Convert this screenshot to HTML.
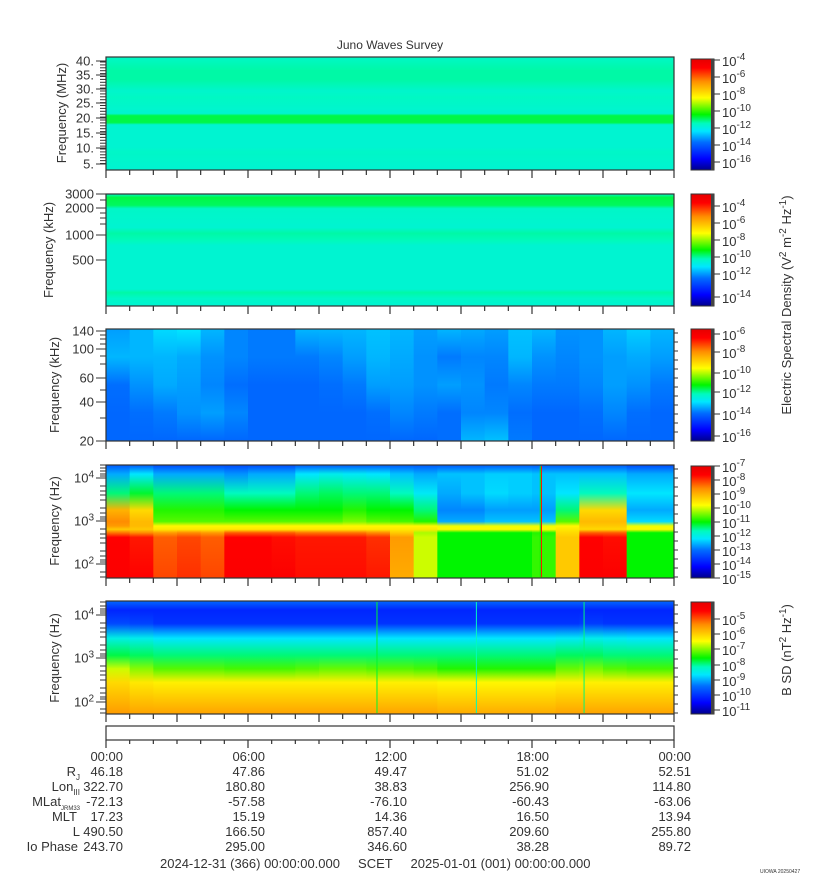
<!DOCTYPE html>
<html><head><meta charset="utf-8"><style>
body{margin:0;background:#fff;}
svg{display:block;font-family:"Liberation Sans","DejaVu Sans",sans-serif;}
text{fill:#333;}
</style></head><body>
<svg id="chart" width="815" height="880" viewBox="0 0 815 880" xmlns="http://www.w3.org/2000/svg">
<defs id="defs"></defs>
<text x="390" y="49" font-size="12" text-anchor="middle">Juno Waves Survey</text>
<g id="panels"></g>
<g id="texts"></g>
</svg>
<script>
// ===== data =====
const hours = [0,1,2,3,4,5,6,7,8,9,10,11,12,13,14,15,16,17,18,19,20,21,22,23];
// panel 1 (MHz) frequency profile: fraction from top, colour level
const p1Rows = [0,0.12,0.2,0.3,0.36,0.5,0.52,0.58,0.6,0.8,0.84,1];
const p1Level = [0.41,0.43,0.43,0.405,0.415,0.40,0.47,0.47,0.40,0.40,0.41,0.40];
// panel 2 (kHz)
const p2Rows = [0,0.03,0.1,0.13,0.3,0.35,0.42,0.46,0.85,0.88,0.93,1];
const p2Level = [0.40,0.47,0.46,0.41,0.40,0.43,0.42,0.40,0.40,0.43,0.41,0.40];
// panel 3 (20-140 kHz) hourly columns
const p3Rows = [0,0.25,0.5,0.75,1];
const p3Level = [
[0.29,0.31,0.25,0.24,0.24],[0.31,0.31,0.28,0.25,0.24],[0.34,0.31,0.3,0.26,0.24],[0.35,0.3,0.29,0.28,0.24],
[0.31,0.28,0.27,0.29,0.24],[0.27,0.27,0.25,0.27,0.24],[0.26,0.26,0.24,0.24,0.24],[0.26,0.26,0.24,0.24,0.24],
[0.31,0.26,0.24,0.24,0.24],[0.31,0.27,0.25,0.24,0.24],[0.31,0.29,0.26,0.24,0.24],[0.32,0.31,0.29,0.25,0.24],
[0.31,0.3,0.29,0.27,0.24],[0.29,0.28,0.28,0.26,0.24],[0.31,0.26,0.29,0.25,0.25],[0.3,0.27,0.28,0.27,0.31],
[0.29,0.27,0.26,0.27,0.32],[0.32,0.31,0.27,0.25,0.26],[0.31,0.28,0.26,0.24,0.24],[0.28,0.27,0.26,0.24,0.24],
[0.28,0.28,0.27,0.25,0.24],[0.31,0.29,0.29,0.27,0.24],[0.33,0.3,0.28,0.25,0.24],[0.31,0.29,0.26,0.24,0.24]];
// panel 4 (Hz, E field)
const p4Rows = [0,0.08,0.25,0.4,0.5,0.54,0.57,0.6,0.64,1];
const p4Level = [
[0.22,0.3,0.45,0.75,0.8,0.78,0.72,0.82,0.92,0.93],[0.22,0.35,0.48,0.7,0.74,0.74,0.72,0.8,0.9,0.92],
[0.2,0.3,0.45,0.52,0.55,0.66,0.68,0.78,0.84,0.86],[0.2,0.3,0.45,0.52,0.55,0.66,0.68,0.8,0.86,0.88],[0.2,0.3,0.45,0.52,0.55,0.66,0.68,0.78,0.84,0.86],
[0.2,0.28,0.42,0.5,0.55,0.66,0.68,0.84,0.92,0.93],[0.2,0.3,0.42,0.5,0.55,0.66,0.68,0.84,0.92,0.93],[0.2,0.3,0.42,0.5,0.55,0.66,0.68,0.84,0.91,0.93],
[0.22,0.35,0.45,0.5,0.55,0.66,0.68,0.82,0.9,0.91],[0.22,0.37,0.46,0.5,0.55,0.66,0.68,0.82,0.9,0.91],[0.22,0.36,0.45,0.52,0.57,0.66,0.68,0.82,0.9,0.91],[0.22,0.35,0.45,0.5,0.55,0.66,0.68,0.8,0.88,0.9],
[0.22,0.32,0.42,0.5,0.54,0.66,0.68,0.72,0.78,0.76],[0.22,0.3,0.36,0.45,0.52,0.66,0.68,0.6,0.62,0.62],
[0.22,0.32,0.3,0.27,0.3,0.64,0.66,0.5,0.5,0.5],[0.22,0.32,0.32,0.27,0.3,0.64,0.66,0.5,0.5,0.5],[0.22,0.33,0.34,0.29,0.32,0.64,0.66,0.5,0.5,0.5],
[0.22,0.33,0.33,0.29,0.32,0.64,0.66,0.5,0.5,0.5],[0.22,0.32,0.32,0.29,0.32,0.64,0.66,0.52,0.53,0.53],
[0.22,0.32,0.35,0.45,0.55,0.66,0.68,0.7,0.72,0.72],[0.22,0.32,0.42,0.7,0.74,0.72,0.7,0.84,0.92,0.93],[0.22,0.32,0.42,0.7,0.74,0.72,0.7,0.84,0.91,0.93],
[0.2,0.3,0.35,0.3,0.34,0.64,0.66,0.5,0.5,0.5],[0.2,0.3,0.35,0.3,0.34,0.64,0.66,0.5,0.5,0.5]];
// panel 5 (Hz, B field)
const p5Rows = [0,0.08,0.2,0.33,0.48,0.6,0.72,1];
const p5Level = [
[0.24,0.15,0.2,0.38,0.47,0.62,0.7,0.78],[0.24,0.15,0.19,0.37,0.46,0.58,0.68,0.77],[0.24,0.15,0.17,0.35,0.45,0.55,0.67,0.77],
[0.24,0.15,0.17,0.35,0.45,0.55,0.67,0.77],[0.24,0.15,0.17,0.35,0.45,0.55,0.67,0.77],[0.24,0.15,0.17,0.35,0.45,0.54,0.67,0.77],
[0.24,0.15,0.17,0.35,0.45,0.54,0.67,0.77],[0.24,0.15,0.17,0.35,0.45,0.54,0.67,0.77],[0.24,0.15,0.17,0.35,0.45,0.55,0.67,0.77],
[0.24,0.15,0.17,0.35,0.45,0.56,0.67,0.77],[0.24,0.15,0.17,0.35,0.45,0.56,0.67,0.77],[0.24,0.15,0.17,0.35,0.45,0.55,0.67,0.77],
[0.24,0.15,0.17,0.35,0.45,0.55,0.67,0.77],[0.24,0.15,0.17,0.35,0.45,0.54,0.67,0.77],[0.24,0.15,0.17,0.35,0.45,0.52,0.66,0.76],
[0.24,0.15,0.17,0.35,0.45,0.52,0.66,0.76],[0.24,0.15,0.17,0.35,0.45,0.52,0.66,0.76],[0.24,0.15,0.17,0.35,0.45,0.52,0.66,0.76],
[0.24,0.15,0.17,0.35,0.45,0.52,0.66,0.76],[0.24,0.15,0.17,0.36,0.46,0.56,0.67,0.77],[0.24,0.15,0.18,0.37,0.46,0.57,0.67,0.77],
[0.24,0.15,0.17,0.36,0.45,0.55,0.67,0.77],[0.24,0.15,0.17,0.35,0.45,0.54,0.67,0.77],[0.24,0.15,0.17,0.35,0.45,0.54,0.67,0.77]];
const p4Spikes = [18.35, 18.4];
const p4SpikeLevel = [0.5, 0.9];
const p5Spikes = [11.45, 15.65, 20.2];
const p5SpikeLevel = [0.48, 0.42, 0.45];
const tickLabels = ["00:00","06:00","12:00","18:00","00:00"];
const rowNames = ["","R_J","Lon_III","MLat_JRM33","MLT","L","Io Phase"];
const ephem = [
["46.18","47.86","49.47","51.02","52.51"],
["322.70","180.80","38.83","256.90","114.80"],
["-72.13","-57.58","-76.10","-60.43","-63.06"],
["17.23","15.19","14.36","16.50","13.94"],
["490.50","166.50","857.40","209.60","255.80"],
["243.70","295.00","346.60","38.28","89.72"]];

// ===== helpers =====
const NS="http://www.w3.org/2000/svg";
const X0=106, X1=674, HOURS=24;
const xScale = h => X0 + (X1-X0)*h/HOURS;
const stops=[[0,[0,0,140]],[0.1,[0,0,255]],[0.25,[0,110,255]],[0.35,[0,230,255]],[0.42,[0,250,190]],[0.5,[0,245,0]],[0.65,[255,255,0]],[0.8,[255,140,0]],[0.92,[255,0,0]],[1,[230,0,0]]];
function cmap(t){t=Math.max(0,Math.min(1,t));for(let i=1;i<stops.length;i++){if(t<=stops[i][0]){const a=stops[i-1],b=stops[i],f=(t-a[0])/(b[0]-a[0]);return 'rgb('+a[1].map((v,k)=>Math.round(v+(b[1][k]-v)*f)).join(',')+')';}}return 'rgb(230,0,0)';}
function mk(tag,attrs,parent){const e=document.createElementNS(NS,tag);for(const k in attrs)e.setAttribute(k,attrs[k]);if(parent)parent.appendChild(e);return e;}
const defs=document.getElementById('defs'), G=document.getElementById('panels'), T=document.getElementById('texts');
let gid=0;
function grad(rows,levels){const id='g'+(gid++);const lg=mk('linearGradient',{id:id,x1:0,y1:0,x2:0,y2:1},defs);rows.forEach((r,i)=>mk('stop',{offset:r,'stop-color':cmap(levels[i])},lg));return id;}
const panels=[[57,170],[194,306],[329,441],[465,578],[601,714]];

function panelFrame(pi,name){
  const [y0,y1]=panels[pi];
  const f=mk('rect',{x:X0,y:y0,width:X1-X0,height:y1-y0,fill:'none',stroke:'#333','stroke-width':1.2},G);
  
  for(let h=0;h<=HOURS;h++){const x=xScale(h);const l=mk('line',{x1:x,x2:x,y1:y1,y2:y1+(h%3==0?8:5),stroke:'#333','stroke-width':1.2},G);
    }
}
function constPanel(pi,rows,levels,name){
  const [y0,y1]=panels[pi];const id=grad(rows,levels);
  const r=mk('rect',{x:X0,y:y0,width:X1-X0,height:y1-y0,fill:'url(#'+id+')'},G);
  
  panelFrame(pi,name);
}
function colPanel(pi,rows,matrix,name){
  const [y0,y1]=panels[pi];
  const g=mk('g',{},G);
  hours.forEach((h,i)=>{const id=grad(rows,matrix[i]);const x=xScale(h);
    const r=mk('rect',{x:x,y:y0,width:xScale(h+1)-x+0.5,height:y1-y0,fill:'url(#'+id+')'},g);
    });
  panelFrame(pi,name);
}
function spikes(pi,times,levels){const [y0,y1]=panels[pi];times.forEach((t,i)=>{const x=xScale(t);
  const l=mk('line',{x1:x,x2:x,y1:y0+1,y2:y1-1,stroke:cmap(levels[i]),'stroke-width':1},G);
  });}

constPanel(0,p1Rows,p1Level,'spectrogram-mhz');
constPanel(1,p2Rows,p2Level,'spectrogram-khz-high');
colPanel(2,p3Rows,p3Level,'spectrogram-khz-low');
colPanel(3,p4Rows,p4Level,'spectrogram-hz-e');
spikes(3,p4Spikes,p4SpikeLevel);
colPanel(4,p5Rows,p5Level,'spectrogram-hz-b');
spikes(4,p5Spikes,p5SpikeLevel);

// y-axis labels & ticks
function ytick(y,label,major){const l=mk('line',{x1:major?96:100,x2:X0,y1:y,y2:y,stroke:'#333','stroke-width':1},G);
  
  if(label!==null){const t=mk('text',{x:94,y:y+4.5,'font-size':13,'text-anchor':'end'},T);
    
    if(typeof label==='object'){t.textContent=label[0];const s=mk('tspan',{dy:-5,'font-size':10},t);s.textContent=label[1];}else t.textContent=label;}}
[["40.",61],["35.",75],["30.",89],["25.",103],["20.",118],["15.",133],["10.",148],["5.",164]].forEach(a=>ytick(a[1],a[0],true));
for(let y=62;y<166;y+=2.9)ytick(y,null,false);
[["3000",194],["2000",208],["1000",235],["500",260]].forEach(a=>ytick(a[1],a[0],true));
[200,213,218,224].forEach(y=>ytick(y,null,false));
[["140",331],["100",349],["60",378],["40",402],["20",441]].forEach(a=>ytick(a[1],a[0],true));
[335,339,344,356,364,390,418].forEach(y=>ytick(y,null,false));
[[["10","4"],478],[["10","3"],521],[["10","2"],564]].forEach(a=>ytick(a[1],a[0],true));
[[["10","4"],615],[["10","3"],658],[["10","2"],702]].forEach(a=>ytick(a[1],a[0],true));
[465,468,471,474,476,486,491,495,500,508,513,517,519,529,534,538,543,551,556,560,562,572,577].forEach(y=>ytick(y,null,false));
[602,606,609,611,613,623,628,632,637,645,650,654,656,666,671,675,680,688,693,697,699,709,713].forEach(y=>ytick(y,null,false));
[[465,578],[601,714],[329,441]].forEach(p=>{for(let y=p[0]+4;y<p[1];y+=9){const l=mk('line',{x1:X1,x2:X1+4,y1:y,y2:y,stroke:'#333'},G);}});

function vtext(x,y,parts,name){const t=mk('text',{x:x,y:y,'font-size':13,'text-anchor':'middle',transform:'rotate(-90 '+x+' '+y+')'},T);
  
  parts.forEach(p=>{if(typeof p==='string'){const s=mk('tspan',{},t);s.textContent=p;}else{const s=mk('tspan',{dy:p[1],'font-size':p[2]||10},t);s.textContent=p[0];}});}
vtext(66,113,["Frequency (MHz)"],'y-axis-title-mhz');
vtext(53,250,["Frequency (kHz)"],'y-axis-title-khz');
vtext(59,385,["Frequency (kHz)"],'y-axis-title-khz-low');
vtext(59,521,["Frequency (Hz)"],'y-axis-title-hz-e');
vtext(59,658,["Frequency (Hz)"],'y-axis-title-hz-b');
vtext(791,305,["Electric Spectral Density (V",["2",-5],["\u00a0m",5,13],["-2",-5],["\u00a0Hz",5,13],["-1",-5],[")",5,13]],'colorbar-title-electric');
vtext(791,650,["B SD (nT",["2",-5],["\u00a0Hz",5,13],["-1",-5],[")",5,13]],'colorbar-title-magnetic');

// colorbars
const cbs=[[59,170,[["-4",60],["-6",77],["-8",94],["-10",111],["-12",128],["-14",145],["-16",162]]],
[194,306,[["-4",206],["-6",223],["-8",240],["-10",257],["-12",274],["-14",297]]],
[329,441,[["-6",334],["-8",352],["-10",373],["-12",392],["-14",414],["-16",436]]],
[466,578,[["-7",466],["-8",480],["-9",494],["-10",508],["-11",522],["-12",536],["-13",550],["-14",564],["-15",578]]],
[602,714,[["-5",619],["-6",634],["-7",649],["-8",665],["-9",680],["-10",695],["-11",710]]]];
const cbRows=[0,0.08,0.2,0.35,0.5,0.58,0.65,0.75,0.9,1];
const cbLev=[1,0.92,0.8,0.65,0.5,0.42,0.35,0.25,0.1,0];
const cbId=grad(cbRows,cbLev);
cbs.forEach((c,ci)=>{const r=mk('rect',{x:691,y:c[0],width:23,height:c[1]-c[0],fill:'url(#'+cbId+')',stroke:'#333','stroke-width':1},G);
  
  const strip=mk('rect',{x:711,y:c[0],width:3,height:c[1]-c[0],fill:'#444'},G);
  c[2].forEach(l=>{const tk=mk('line',{x1:714,x2:720,y1:l[1],y2:l[1],stroke:'#333'},G);
    const t=mk('text',{x:722,y:l[1]+6,'font-size':13},T);
    t.textContent='10';const s=mk('tspan',{dy:-6,'font-size':10},t);s.textContent=l[0];});});

// time axis box
const tb=mk('rect',{x:X0,y:726,width:X1-X0,height:14,fill:'none',stroke:'#333','stroke-width':1.2},G);

for(let h=0;h<=HOURS;h++){const x=xScale(h);const l=mk('line',{x1:x,x2:x,y1:740,y2:h%6==0?748:744,stroke:'#333','stroke-width':1.2},G);
  }
tickLabels.forEach((lab,i)=>{const x=xScale(i*6);const t=mk('text',{x:x+17,y:761,'font-size':13,'text-anchor':'end'},T);
  t.textContent=lab;});
rowNames.forEach((n,ri)=>{if(!n)return;const y=761+ri*15;const t=mk('text',{x:ri==6?78:(ri==4?77:80),y:y,'font-size':13,'text-anchor':'end'},T);
  
  const parts=n.split('_');t.textContent=parts[0];if(parts[1]){const s=mk('tspan',{dy:4,'font-size':ri==3?6:8},t);s.textContent=parts[1];}
  ephem[ri-1].forEach((v,ci)=>{const tv=mk('text',{x:xScale(ci*6)+17,y:y,'font-size':13,'text-anchor':'end'},T);
    tv.textContent=v;});});
const ft=mk('text',{x:160,y:868,'font-size':13,style:'white-space:pre'},T);

ft.textContent='2024-12-31 (366) 00:00:00.000     SCET     2025-01-01 (001) 00:00:00.000';
const st=mk('text',{x:760,y:873,'font-size':5},T);st.textContent='UIOWA 20250427';
</script>
</body></html>
